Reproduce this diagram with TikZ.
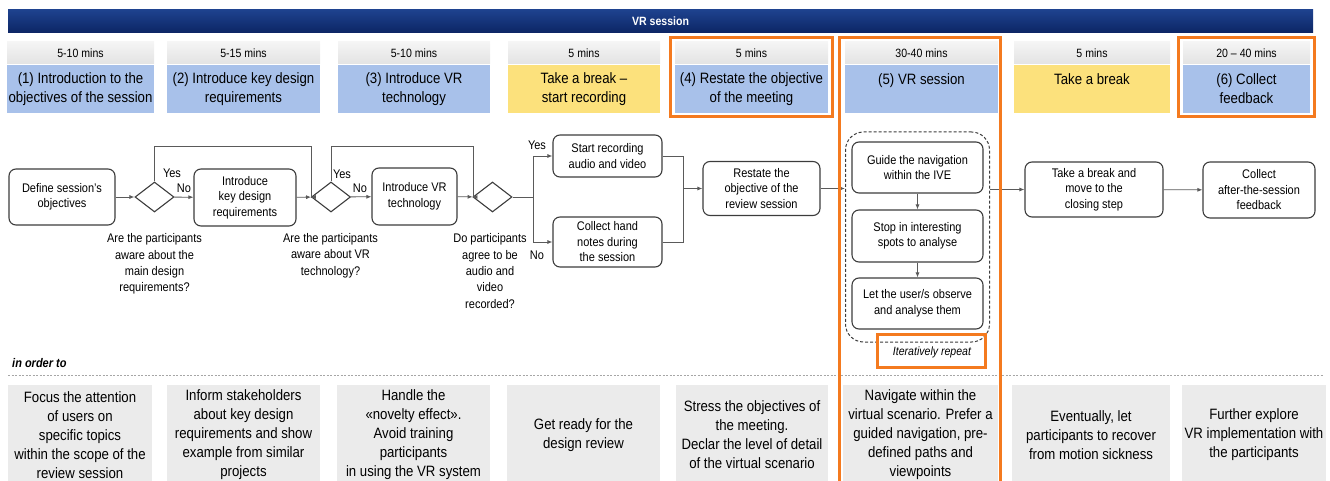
\documentclass[tikz,border=0pt]{standalone}
\usepackage{fontspec}
\setmainfont{Liberation Sans}[FakeStretch=0.88]
\usepackage{xcolor}
\usetikzlibrary{shapes.geometric,arrows.meta}

\definecolor{navy}{HTML}{0C2564}
\definecolor{navytop}{HTML}{1E428E}
\definecolor{phaseblue}{HTML}{A8C1EA}
\definecolor{breakyellow}{HTML}{FCE17C}
\definecolor{goalgray}{HTML}{EBEBEB}
\definecolor{hiorange}{HTML}{F47A1F}
\definecolor{edge}{HTML}{3C3C3C}
\definecolor{wire}{HTML}{5A5A5A}

\newcommand{\timefont}{\fontsize{12}{14}\selectfont}
\newcommand{\phasefont}{\fontsize{15}{19}\selectfont}
\newcommand{\flowfont}{\fontsize{12.5}{15.5}\selectfont}
\newcommand{\askfont}{\fontsize{12.5}{16.3}\selectfont}
\newcommand{\goalfont}{\fontsize{15}{19}\selectfont}

\begin{document}
\begin{tikzpicture}[x=1pt,y=-1pt,
        banner/.style={top color=navytop,bottom color=navy,text=white,font=\bfseries\timefont,minimum height=23pt,inner sep=0pt},
        timebar/.style={top color=gray!8,bottom color=gray!22,font=\timefont,minimum height=22pt,inner sep=1pt},
        phase/.style={fill=phaseblue,font=\phasefont,align=center,minimum height=48pt,inner sep=1pt},
        pause/.style={fill=breakyellow,font=\phasefont,align=center,minimum height=48pt,inner sep=1pt},
        goal/.style={fill=goalgray,font=\goalfont,align=center,minimum height=100pt,inner sep=1pt},
        flowbox/.style={draw=edge,line width=1.1pt,rounded corners=7pt,font=\flowfont,align=center,inner sep=1pt},
        decision/.style={diamond,draw=edge,line width=1.1pt,minimum width=39pt,minimum height=30pt,inner sep=0pt},
        tag/.style={font=\flowfont,inner sep=0pt},
        ask/.style={font=\askfont,align=center,inner sep=0pt},
        wireline/.style={draw=wire,line width=0.8pt},
        arr/.style={wireline,-{Latex[length=5pt,width=4pt]}},
        hilite/.style={draw=hiorange,line width=3pt}]

            \useasboundingbox (0,0) rectangle (1330,481);
            \clip (0,0) rectangle (1330,481);

            \node (banner) at (660.5,21.5) [banner,minimum width=1305pt] {VR session};

            \node (t1) at (80.5,53) [timebar,minimum width=147pt] {5-10 mins};
            \node (t2) at (243.5,53) [timebar,minimum width=153pt] {5-15 mins};
            \node (t3) at (414,53) [timebar,minimum width=152pt] {5-10 mins};
            \node (t4) at (584,53) [timebar,minimum width=152pt] {5 mins};
            \node (t5) at (751.5,53) [timebar,minimum width=153pt] {5 mins};
            \node (t6) at (921.5,53) [timebar,minimum width=153pt] {30-40 mins};
            \node (t7) at (1092,53) [timebar,minimum width=156pt] {5 mins};
            \node (t8) at (1246.5,53) [timebar,minimum width=127pt] {20 – 40 mins};

            \node (p1) at (80.5,89) [phase,minimum width=147pt] {(1) Introduction to the\\objectives of the session};
            \node (p2) at (243.5,89) [phase,minimum width=153pt] {(2) Introduce key design\\requirements};
            \node (p3) at (414,89) [phase,minimum width=152pt] {(3) Introduce VR\\technology};
            \node (p4) at (584,89) [pause,minimum width=152pt] {Take a break –\\start recording};
            \node (p5) at (751.5,89) [phase,minimum width=153pt] {(4) Restate the objective\\of the meeting};
            \node (p6) at (921.5,89) [phase,minimum width=153pt] {(5) VR session\\\mbox{}};
            \node (p7) at (1092,89) [pause,minimum width=156pt] {Take a break\\\mbox{}};
            \node (p8) at (1246.5,89) [phase,minimum width=127pt] {(6) Collect\\feedback};

            \node (def) at (62,197) [flowbox,minimum width=106pt,minimum height=56pt] {Define session's\\objectives};
            \node (d1) at (154.5,197) [decision] {};
            \node (key) at (245,197.5) [flowbox,minimum width=102pt,minimum height=57pt] {Introduce\\key design\\requirements};
            \node (d2) at (331,197) [decision] {};
            \node (vr) at (414.5,196.5) [flowbox,minimum width=85pt,minimum height=57pt] {Introduce VR\\technology};
            \node (d3) at (492.5,197) [decision] {};
            \node (rec) at (607.5,156) [flowbox,minimum width=109pt,minimum height=42pt] {Start recording\\audio and video};
            \node (notes) at (607.5,242) [flowbox,minimum width=109pt,minimum height=50pt] {Collect hand\\notes during\\the session};
            \node (restate) at (761.5,188.5) [flowbox,minimum width=117pt,minimum height=54pt] {Restate the\\objective of the\\review session};
            \node (grp) at (917.5,237) [draw=edge,line width=1pt,dash pattern=on 3pt off 2pt,rounded corners=18pt,minimum width=144pt,minimum height=210pt] {};
            \node (guide) at (917.5,167.5) [flowbox,minimum width=131pt,minimum height=51pt] {Guide the navigation\\within the IVE};
            \node (stop) at (917.5,236) [flowbox,minimum width=131pt,minimum height=52pt] {Stop in interesting\\spots to analyse};
            \node (let) at (917.5,303.5) [flowbox,minimum width=131pt,minimum height=51pt] {Let the user/s observe\\and analyse them};
            \node (brk) at (1094,189.5) [flowbox,minimum width=138pt,minimum height=55pt] {Take a break and\\move to the\\closing step};
            \node (coll) at (1259,190) [flowbox,minimum width=112pt,minimum height=56pt] {Collect\\after-the-session\\feedback};

            \node (y1) at (172,173) [tag] {Yes};
            \node (n1) at (184,188) [tag] {No};
            \node (y2) at (342,174) [tag] {Yes};
            \node (n2) at (360,188) [tag] {No};
            \node (y3) at (537,145) [tag] {Yes};
            \node (n3) at (537,255) [tag] {No};

            \node (q1) at (154.5,264) [ask] {Are the participants\\aware about the\\main design\\requirements?};
            \node (q2) at (330.5,255.5) [ask] {Are the participants\\aware about VR\\technology?};
            \node (q3) at (490,271) [ask] {Do participants\\agree to be\\audio and\\video\\recorded?};

            \coordinate (k1) at (311,146);
            \coordinate (k2) at (473,146);
            \coordinate (s1) at (533,197);
            \coordinate (m1) at (683,188.5);

            \draw [arr] (def) -- (d1);
            \draw [arr] (d1) -- (key);
            \draw [arr] (key) -- (d2);
            \draw [arr] (d2) -- (vr);
            \draw [arr] (vr) -- (d3);
            \draw [arr] (d1.north) |- (k1) |- (d2.west);
            \draw [arr] (d2.north) |- (k2) |- (d3.west);
            \draw [wireline] (d3.east) -- (s1);
            \draw [arr] (s1) |- (rec.west);
            \draw [arr] (s1) |- (notes.west);
            \draw [wireline] (rec.east) -| (m1);
            \draw [wireline] (notes.east) -| (m1);
            \draw [arr] (m1) -- (restate.west);
            \draw [arr] (restate.east) -- (restate.east -| grp.west);
            \draw [arr] (guide) -- (stop);
            \draw [arr] (stop) -- (let);
            \draw [arr] (grp.east |- brk.west) -- (brk.west);
            \draw [arr] (brk) -- (coll);

            \node (rep) at (932,352) [font=\itshape\timefont,inner sep=0pt] {Iteratively repeat};
            \node (ordr) at (12,363) [anchor=west,font=\bfseries\itshape\fontsize{12.5}{14}\selectfont,inner sep=0pt] {in order to};
            \draw [draw=gray!70,line width=1pt,dash pattern=on 2pt off 1.5pt] (8,375) -- (1324,375);

            \node (g1) at (80,435) [goal,minimum width=144pt] {Focus the attention\\of users on\\specific topics\\within the scope of the\\review session};
            \node (g2) at (243.5,435) [goal,minimum width=153pt] {Inform stakeholders\\about key design\\requirements and show\\example from similar\\projects};
            \node (g3) at (413.5,435) [goal,minimum width=153pt] {Handle the\\«novelty effect».\\Avoid training\\participants\\in using the VR system};
            \node (g4) at (583.5,435) [goal,minimum width=153pt] {Get ready for the\\design review};
            \node (g5) at (752,435) [goal,minimum width=152pt] {Stress the objectives of\\the meeting.\\Declar the level of detail\\of the virtual scenario};
            \node (g6) at (920.5,435) [goal,minimum width=155pt] {Navigate within the\\virtual scenario. Prefer a\\guided navigation, pre-\\defined paths and\\viewpoints};
            \node (g7) at (1091,435) [goal,minimum width=158pt] {Eventually, let\\participants to recover\\from motion sickness};
            \node (g8) at (1254,435) [goal,minimum width=144pt] {Further explore\\VR implementation with\\the participants};

            \draw [hilite] (670,38) rectangle (832,117);
            \draw [hilite] (839,38) rectangle (1000,495);
            \draw [hilite] (1178,38) rectangle (1314,117);
            \draw [hilite] (877,334) rectangle (985,367);

        \end{tikzpicture}
\end{document}
